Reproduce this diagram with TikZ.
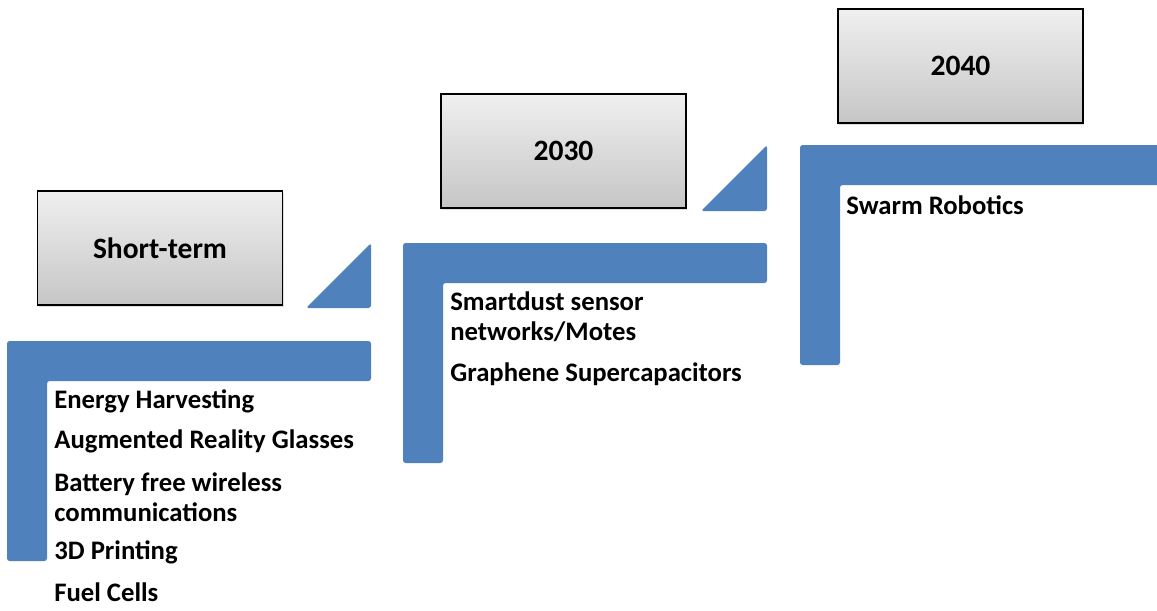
\documentclass[tikz,border=0pt]{standalone}
\usepackage{fontspec}
\setmainfont{Carlito}
\usetikzlibrary{shadows}

\definecolor{stepblue}{HTML}{4F81BD}

\begin{document}
\begin{tikzpicture}[x=0.02cm,y=-0.02cm]

      \useasboundingbox (0,0) rectangle (1157,610);

      % blue steps
      \begin{scope}[fill=stepblue,rounded corners=1.5pt]
        \fill (7,341) -- (371,341) -- (371,381) -- (47,381) -- (47,561) -- (7,561) -- cycle;
        \fill (403,243) -- (767,243) -- (767,283) -- (443,283) -- (443,463) -- (403,463) -- cycle;
        \fill (800,145) -- (1170,145) -- (1170,185) -- (840,185) -- (840,365) -- (800,365) -- cycle;
        \fill (306,308) -- (371,308) -- (371,243) -- cycle;
        \fill (701,211) -- (767,211) -- (767,145) -- cycle;
      \end{scope}

      % year boxes
      \begin{scope}[every node/.style={draw=black,thick,top color=gray!12,bottom color=gray!45,
          drop shadow={opacity=0.25,shadow xshift=0.6pt,shadow yshift=-0.9pt},
          minimum width=4.9cm,minimum height=2.28cm,font=\bfseries\fontsize{16.8}{20}\selectfont}]
        \node (short) at (160,248) {Short-term};
        \node (y2030) at (563.5,151) {2030};
        \node (y2040) at (960.5,66) {2040};
      \end{scope}

      % lists
      \begin{scope}[every node/.style={anchor=west,inner sep=0pt,align=left,
          font=\bfseries\fontsize{15.2}{17}\selectfont}]
        \node (energy) at (54,401) {Energy Harvesting};
        \node (glasses) at (54,441) {Augmented Reality Glasses};
        \node (battery) at (54,497.5) {Battery free wireless\\communications};
        \node (print) at (54,552) {3D Printing};
        \node (fuel) at (54,592) {Fuel Cells};

        \node (smart) at (450,316.5) {Smartdust sensor\\networks/Motes};
        \node (graph) at (450,374) {Graphene Supercapacitors};

        \node (swarm) at (846,205) {Swarm Robotics};
      \end{scope}

\end{tikzpicture}
\end{document}
